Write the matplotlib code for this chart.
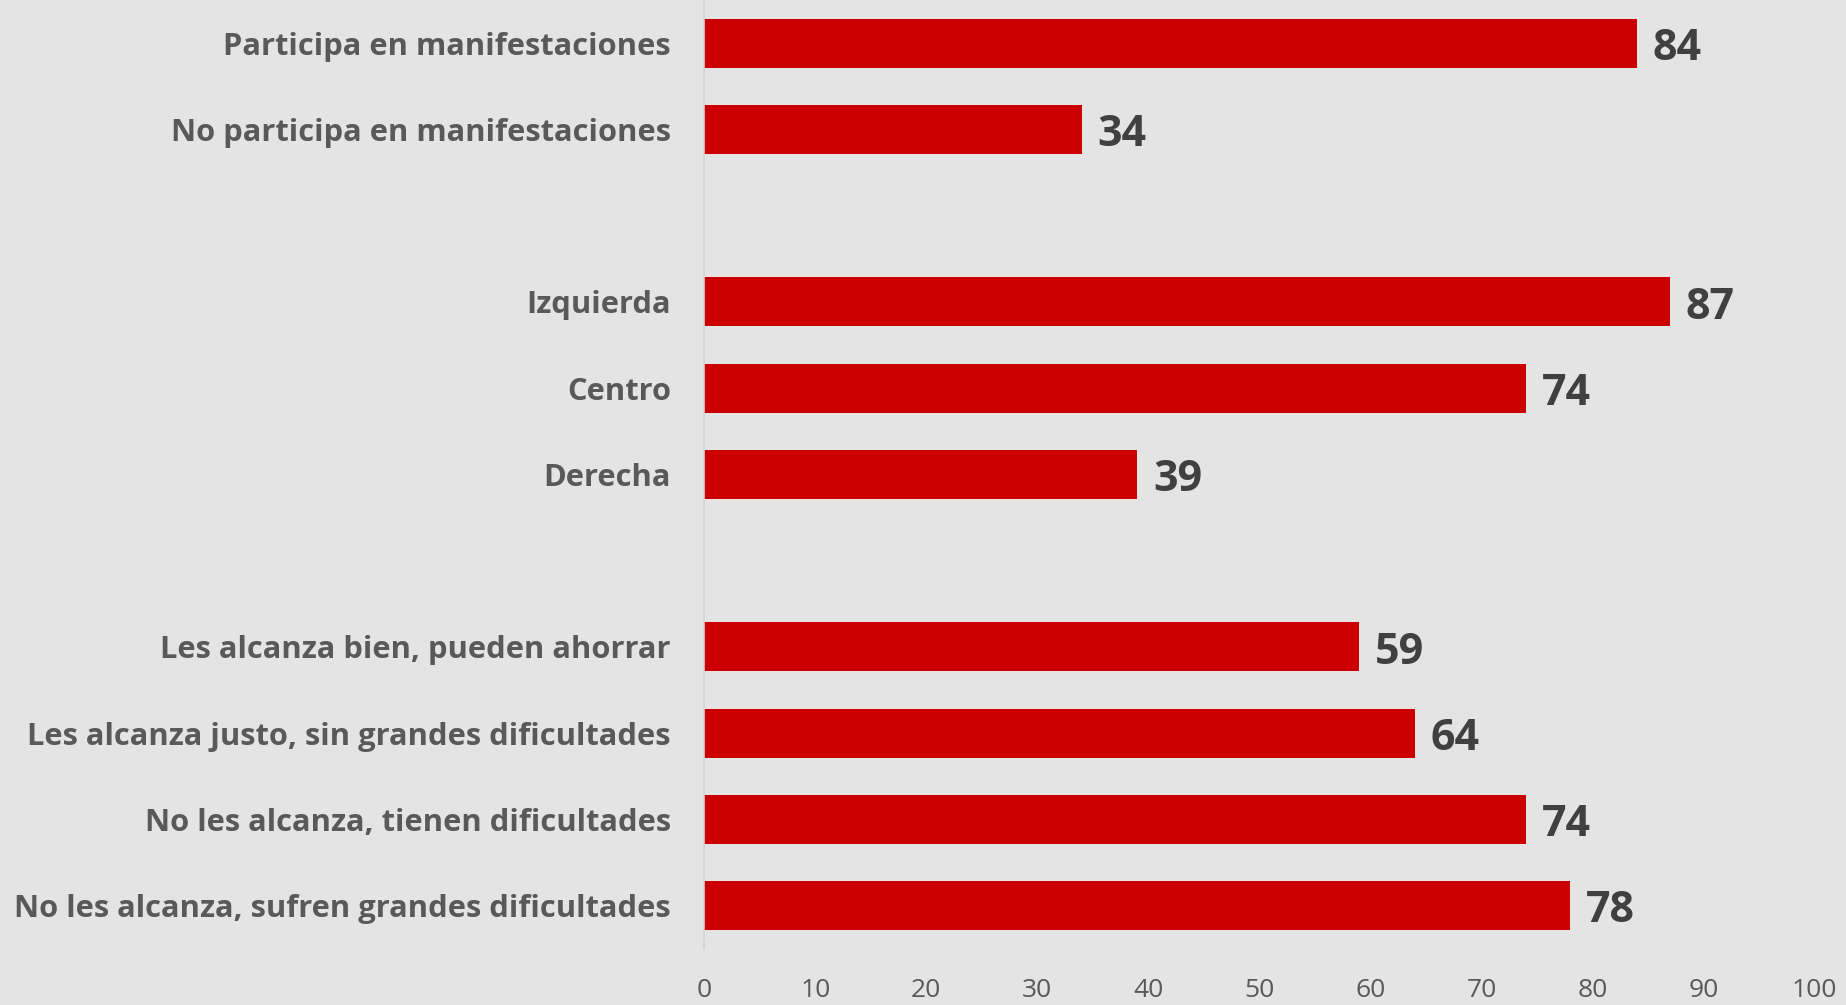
import matplotlib
matplotlib.use("Agg")
import matplotlib.pyplot as plt
import numpy as np

categories = [
    "Participa en manifestaciones",
    "No participa en manifestaciones",
    "",
    "Izquierda",
    "Centro",
    "Derecha",
    "",
    "Les alcanza bien, pueden ahorrar",
    "Les alcanza justo, sin grandes dificultades",
    "No les alcanza, tienen dificultades",
    "No les alcanza, sufren grandes dificultades",
]
values = [84, 34, None, 87, 74, 39, None, 59, 64, 74, 78]
xticks = [0, 10, 20, 30, 40, 50, 60, 70, 80, 90, 100]

BG = "#e4e4e4"
BAR = "#cc0000"
LBL = "#595959"
VAL = "#404040"
FONT = ["Open Sans", "DejaVu Sans"]

fig = plt.figure(figsize=(18.46, 10.05), dpi=100, facecolor=BG)
ax = fig.add_axes([0.3815, 0.056, 0.6015, 0.944])
ax.set_facecolor(BG)

n = len(categories)
ypos = np.arange(n)
for y, v in zip(ypos, values):
    if v is None:
        continue
    ax.barh(y, v, height=0.57, color=BAR, edgecolor="none")
    ax.text(v + 1.4, y + 0.06, str(v), va="center", ha="left",
            fontsize=31, fontweight="bold", color=VAL, family=FONT)

ax.set_ylim(n - 0.5, -0.5)
ax.set_xlim(0, 100)
ax.set_yticks(ypos)
ax.set_yticklabels(categories, fontsize=22.2, fontweight="bold", color=LBL, family=FONT)
ax.set_xticks(xticks)
ax.set_xticklabels([str(t) for t in xticks], fontsize=19, color=LBL,
                   family=["Liberation Sans Narrow", "Open Sans", "DejaVu Sans"])
ax.tick_params(axis="y", length=0, pad=24)
ax.tick_params(axis="x", length=0, pad=21)
for s in ["top", "right", "bottom"]:
    ax.spines[s].set_visible(False)
ax.spines["left"].set_color("#d2d2d2")
ax.spines["left"].set_linewidth(1.2)

fig.savefig("out.png", dpi=100, facecolor=BG)
